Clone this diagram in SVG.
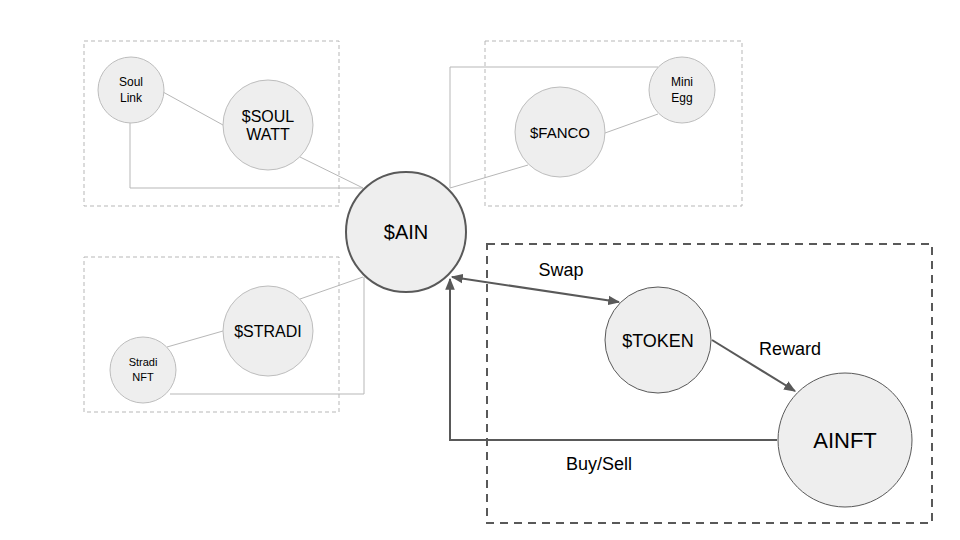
<svg xmlns="http://www.w3.org/2000/svg" width="960" height="540" viewBox="0 0 960 540">
<defs>
<marker id="ah" viewBox="0 0 10 10" refX="9" refY="5" markerWidth="6" markerHeight="6" orient="auto-start-reverse">
<path d="M0,1 L10,5 L0,9 z" fill="#595959"/>
</marker>
<style>
.box{fill:none;stroke:#b7b7b7;stroke-width:1;stroke-dasharray:4,3}
.box2{fill:none;stroke:#595959;stroke-width:2;stroke-dasharray:8,6}
.n{fill:#eeeeee;stroke:#bdbdbd;stroke-width:1}
.nd{fill:#eeeeee;stroke:#595959;stroke-width:1}
.thin{fill:none;stroke:#b7b7b7;stroke-width:1}
.arr{fill:none;stroke:#595959;stroke-width:2}
text{font-family:"Liberation Sans",Arial,sans-serif;fill:#000;text-anchor:middle}
</style>
</defs>
<rect width="960" height="540" fill="#ffffff"/>
<g id="groups">
<rect class="box" x="84" y="41" width="255" height="165"/>
<rect class="box" x="485" y="41" width="257" height="165"/>
<rect class="box" x="84" y="257" width="255" height="155"/>
<rect class="box2" x="487" y="244" width="445" height="279"/>
</g>
<g id="connectors">
<line class="thin" x1="163" y1="92" x2="223" y2="125"/>
<line class="thin" x1="300" y1="157" x2="363" y2="188"/>
<polyline class="thin" points="130,123 130,188 363,188"/>
<line class="thin" x1="658" y1="114" x2="605" y2="133"/>
<line class="thin" x1="528" y1="165" x2="450" y2="188"/>
<polyline class="thin" points="450,188 450,67 658,67"/>
<line class="thin" x1="167" y1="347" x2="223" y2="331"/>
<line class="thin" x1="300" y1="299" x2="363" y2="277"/>
<polyline class="thin" points="170,394 364,394 364,277"/>
<line class="arr" x1="452" y1="277" x2="619" y2="302" marker-start="url(#ah)" marker-end="url(#ah)"/>
<line class="arr" x1="712" y1="340" x2="795" y2="391" marker-end="url(#ah)"/>
<polyline class="arr" points="777,440 450,440 450,279" marker-end="url(#ah)"/>
<text x="561" y="276" font-size="18">Swap</text>
<text x="790" y="355" font-size="18">Reward</text>
<text x="599" y="470" font-size="18">Buy/Sell</text>
</g>
<g id="soullink">
<circle class="n" cx="131" cy="90" r="33"/>
<text x="131" y="86" font-size="12">Soul</text>
<text x="131" y="102" font-size="12">Link</text>
</g>
<g id="soulwatt">
<circle class="n" cx="268" cy="125" r="45"/>
<text x="268" y="122" font-size="16">$SOUL</text>
<text x="268" y="140" font-size="16">WATT</text>
</g>
<g id="miniegg">
<circle class="n" cx="682" cy="90" r="33"/>
<text x="682" y="86" font-size="12">Mini</text>
<text x="682" y="102" font-size="12">Egg</text>
</g>
<g id="fanco">
<circle class="n" cx="560" cy="132" r="45"/>
<text x="560" y="138" font-size="15">$FANCO</text>
</g>
<g id="stradi">
<circle class="n" cx="268" cy="331" r="45"/>
<text x="268" y="337" font-size="16">$STRADI</text>
</g>
<g id="stradinft">
<circle class="n" cx="143" cy="370" r="33"/>
<text x="143" y="366" font-size="11">Stradi</text>
<text x="143" y="381" font-size="11">NFT</text>
</g>
<g id="ain">
<circle cx="406" cy="232" r="60" fill="#eeeeee" stroke="#595959" stroke-width="2"/>
<text x="406" y="239" font-size="20">$AIN</text>
</g>
<g id="token">
<circle class="nd" cx="658" cy="340" r="53"/>
<text x="658" y="347" font-size="18">$TOKEN</text>
</g>
<g id="ainft">
<circle class="nd" cx="845" cy="440" r="67"/>
<text x="845" y="448" font-size="22">AINFT</text>
</g>
</svg>
